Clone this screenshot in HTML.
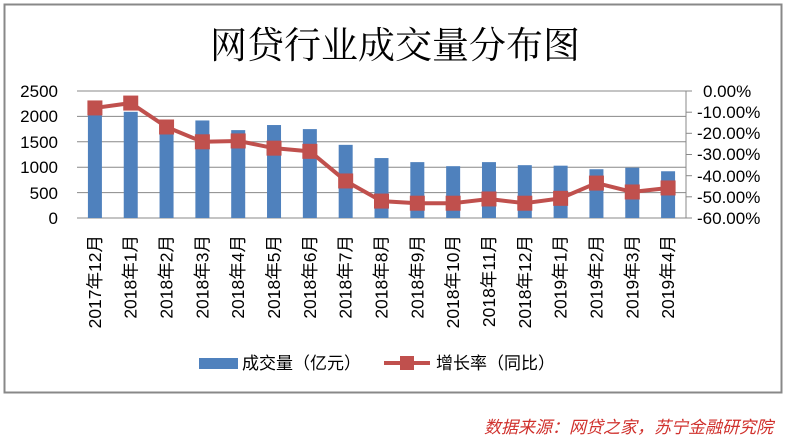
<!DOCTYPE html>
<html><head><meta charset="utf-8"><style>
html,body{margin:0;padding:0;background:#fff;}
svg{display:block;font-family:"Liberation Sans","Noto Sans CJK SC",sans-serif;}
</style></head><body>
<svg width="787" height="441" viewBox="0 0 787 441" xmlns="http://www.w3.org/2000/svg">
<rect x="0" y="0" width="787" height="441" fill="#fff"/>
<rect x="4.5" y="4.5" width="777" height="388" fill="#fff" stroke="#888" stroke-width="2"/>
<text x="395" y="58" text-anchor="middle" font-size="37" font-family="'Noto Serif CJK SC','Noto Sans CJK SC',serif" fill="#000">网贷行业成交量分布图</text>
<g stroke="#888" stroke-width="1">
<line x1="77" y1="91" x2="686" y2="91"/>
<line x1="77" y1="116.4" x2="686" y2="116.4"/>
<line x1="77" y1="141.8" x2="686" y2="141.8"/>
<line x1="77" y1="167.2" x2="686" y2="167.2"/>
<line x1="77" y1="192.6" x2="686" y2="192.6"/>
<line x1="77" y1="218" x2="686" y2="218"/>
<line x1="686" y1="91" x2="686" y2="218"/>
<line x1="686" y1="91" x2="692" y2="91"/><line x1="686" y1="112.2" x2="692" y2="112.2"/><line x1="686" y1="133.3" x2="692" y2="133.3"/><line x1="686" y1="154.5" x2="692" y2="154.5"/><line x1="686" y1="175.7" x2="692" y2="175.7"/><line x1="686" y1="196.8" x2="692" y2="196.8"/><line x1="686" y1="218" x2="692" y2="218"/>
</g>
<g font-size="17" fill="#000" text-anchor="end">
<text x="58" y="97">2500</text><text x="58" y="122">2000</text><text x="58" y="148">1500</text><text x="58" y="173">1000</text><text x="58" y="199">500</text><text x="58" y="224">0</text>
</g>
<g font-size="17" fill="#000">
<text x="703" y="97">0.00%</text><text x="697" y="118">-10.00%</text><text x="697" y="139">-20.00%</text><text x="697" y="160">-30.00%</text><text x="697" y="182">-40.00%</text><text x="697" y="203">-50.00%</text><text x="697" y="224">-60.00%</text>
</g>
<g fill="#4f81bd" id="bars"></g>
<polyline id="line" fill="none" stroke="#c0504d" stroke-width="4" stroke-linejoin="round"/>
<g id="marks" fill="#c0504d"></g>
<g id="labels" font-size="17.5" fill="#000"></g>
<rect x="199" y="358" width="39" height="11" fill="#4f81bd"/>
<text x="242" y="369" font-size="17" fill="#000">成交量（亿元）</text>
<line x1="384" y1="363" x2="430" y2="363" stroke="#c0504d" stroke-width="4"/>
<rect x="400" y="356" width="14" height="14" fill="#c0504d"/>
<text x="436" y="369" font-size="17" fill="#000">增长率（同比）</text>
<text x="773" y="433" text-anchor="end" font-size="17" font-style="italic" fill="#d0312d">数据来源：网贷之家，苏宁金融研究院</text>
</svg>
<script>
var v=[2040,2090,1730,1920,1730,1830,1750,1440,1180,1100,1020,1100,1040,1030,960,990,920];
var p=[-8,-5.7,-17,-24,-23.6,-27,-28.5,-42.5,-52,-53,-53,-51,-53,-50.7,-43.5,-47.7,-45.8];
var lab=["2017年12月","2018年1月","2018年2月","2018年3月","2018年4月","2018年5月","2018年6月","2018年7月","2018年8月","2018年9月","2018年10月","2018年11月","2018年12月","2019年1月","2019年2月","2019年3月","2019年4月"];
var ns="http://www.w3.org/2000/svg",w=609/17,pts=[];
function el(t,a,par){var e=document.createElementNS(ns,t);for(var k in a)e.setAttribute(k,a[k]);document.getElementById(par).appendChild(e);return e;}
for(var i=0;i<17;i++){var cx=77+w/2+i*w;var h=v[i]*0.0508;
el("rect",{x:cx-7,y:218-h,width:14,height:h},"bars");
var y=91-p[i]*2.117;pts.push(cx+","+y);
el("rect",{x:cx-7.5,y:y-7.5,width:15,height:15},"marks");
var t=el("text",{transform:"translate("+(cx+6)+",235) rotate(-90)","text-anchor":"end"},"labels");t.textContent=lab[i];}
document.getElementById("line").setAttribute("points",pts.join(" "));
</script>
</body></html>
